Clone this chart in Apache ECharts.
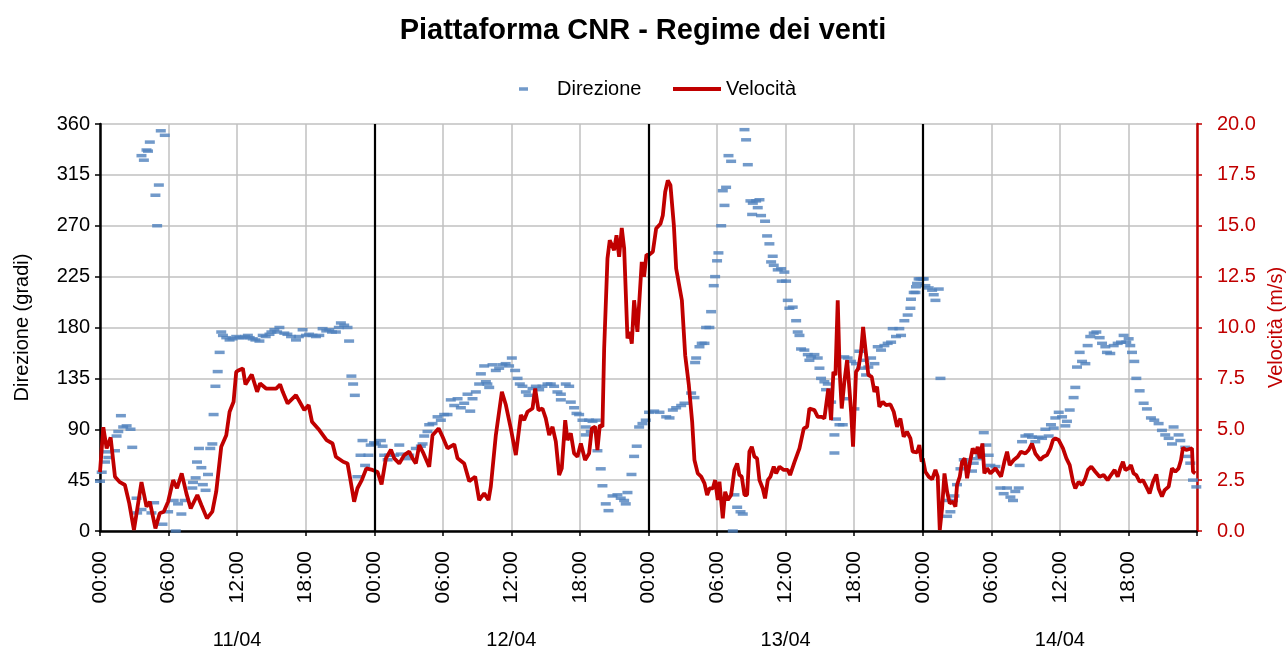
<!DOCTYPE html>
<html>
<head>
<meta charset="utf-8">
<script src="https://cdn.jsdelivr.net/npm/echarts@6/dist/echarts.min.js"></script>
<style>
html,body{margin:0;padding:0;background:#fff;}
#chart{width:1286px;height:655px;}
</style>
</head>
<body>
<div id="chart"></div>
<script>
// ---- Data (hours since 11/04 00:00) ----
var dayLabels = ['11/04', '12/04', '13/04', '14/04'];
var hourTicks = [0, 6, 12, 18, 24, 30, 36, 42, 48, 54, 60, 66, 72, 78, 84, 90];
var dayBoundaries = [24, 48, 72];

var velHours = [
0,0.29,0.58,0.93,1.31,1.74,2.18,2.56,2.97,3.63,4.07,4.36,4.85,5.23,5.58,5.96,6.4,6.74,7.15,7.56,7.94,8.52,8.87,9.36,9.83,10.17,10.61,11.05,11.34,11.69,11.92,12.15,12.5,12.73,13.28,13.75,14.01,14.53,15.41,15.76,15.99,16.42,17.15,17.88,18.26,18.55,19.19,19.83,20.35,20.64,21.28,21.66,21.89,22.24,22.53,22.91,23.31,23.84,
24.0,24.29,24.64,25.02,25.46,25.75,26.19,26.62,27.06,27.35,27.64,27.94,28.31,28.81,29.1,29.63,29.98,30.41,31.0,31.29,31.87,32.31,32.83,33.18,33.62,34.0,34.2,34.64,35.17,35.52,35.95,36.39,36.83,37.12,37.41,37.85,38.08,38.37,38.72,39.01,39.31,39.6,39.89,40.18,40.41,40.71,40.91,41.2,41.49,41.78,42.08,42.45,42.8,43.04,43.33,43.53,43.74,43.97,44.12,44.41,44.61,44.99,45.2,45.43,45.66,45.87,46.16,46.36,46.54,46.74,47.03,47.41,47.61,47.82,
48.0,48.38,48.67,49.05,49.25,49.46,49.69,49.92,50.22,50.42,50.92,51.21,51.53,51.82,52.02,52.31,52.61,52.9,53.13,53.34,53.63,53.83,54.06,54.21,54.5,54.71,54.94,55.23,55.52,55.76,55.96,56.16,56.4,56.63,56.83,57.04,57.27,57.5,57.71,58.0,58.2,58.44,58.67,58.96,59.17,59.46,59.84,60.19,60.39,60.78,61.21,61.59,61.88,62.08,62.52,62.81,63.16,63.39,63.74,63.98,64.18,64.36,64.56,64.73,64.91,65.14,65.38,65.58,65.73,65.9,66.16,66.37,66.6,66.78,66.98,67.24,67.53,67.77,68.0,68.2,68.5,68.79,69.17,69.46,69.75,70.04,70.33,70.62,70.92,71.12,71.5,71.7,71.91,
72.0,72.23,72.52,72.82,73.11,73.31,73.49,73.69,73.9,74.13,74.36,74.65,74.86,75.0,75.24,75.44,75.67,75.88,76.11,76.37,76.61,76.81,76.99,77.22,77.39,77.63,77.92,78.36,78.85,79.14,79.38,79.61,79.96,80.31,80.6,80.98,81.27,81.56,81.85,82.29,82.58,82.87,83.17,83.4,83.6,83.9,84.27,84.57,84.86,85.15,85.35,85.64,85.94,86.23,86.46,86.75,87.1,87.48,87.83,88.18,88.47,88.79,89.06,89.29,89.52,89.73,90.02,90.22,90.45,90.69,90.98,91.27,91.56,91.85,92.15,92.44,92.64,92.93,93.17,93.52,93.81,94.1,94.39,94.6,94.77,95.06,95.35,95.56,95.65,95.85
];
var velValues = [
2.9,5.1,4.06,4.6,2.67,2.4,2.26,1.36,0.05,2.4,1.2,1.44,0.13,0.87,0.95,1.44,2.5,2.1,2.83,1.85,1.11,1.77,1.28,0.62,0.95,1.93,4.14,4.71,5.86,6.35,7.82,7.9,7.99,7.2,7.69,6.84,7.25,7.0,7.0,7.2,6.84,6.27,6.68,5.94,6.19,5.37,4.96,4.47,4.3,3.65,3.4,3.32,2.59,1.44,2.1,2.5,3.08,3.0,
3.08,2.9,2.29,3.57,4.0,3.57,3.32,3.73,3.9,3.57,3.32,4.22,3.81,3.16,4.71,5.04,4.63,4.06,4.26,3.57,3.32,2.45,2.67,1.52,1.85,1.52,2.18,4.71,6.84,6.19,5.04,3.73,5.7,5.45,5.86,6.02,7.0,5.94,6.02,5.53,4.71,5.12,4.39,2.75,3.08,5.45,4.47,4.8,3.81,3.65,4.3,3.49,3.81,5.04,5.12,3.98,5.2,5.12,8.97,13.39,14.29,13.8,14.53,13.47,14.89,13.88,9.46,9.79,9.21,11.34,9.79,13.22,12.49,13.58,
13.55,13.72,14.86,15.1,15.5,16.66,17.23,16.99,15.02,12.9,11.34,8.64,7.17,5.37,3.49,2.83,2.67,2.34,1.77,2.09,2.09,2.5,1.52,2.42,0.62,1.93,1.52,1.77,3.0,3.32,2.75,2.67,1.77,1.77,3.9,4.14,3.65,3.57,2.5,2.09,1.6,2.5,2.67,3.16,2.83,3.16,3.0,3.0,2.75,3.4,4.06,5.04,5.12,6.02,5.94,5.61,5.61,5.53,7.0,5.45,7.82,7.66,11.34,7.82,6.02,7.33,8.4,7.0,5.86,4.14,7.82,7.99,8.8,10.03,8.97,7.66,7.58,6.84,7.09,6.1,6.35,6.19,6.22,5.86,5.12,5.53,4.63,4.88,4.55,3.9,3.86,4.22,3.4,
3.57,2.91,2.67,2.54,3.0,2.67,0.05,1.11,2.83,1.93,1.36,1.44,1.2,2.26,2.67,3.4,3.57,2.59,3.32,4.06,3.81,4.14,3.57,4.3,2.83,3.08,2.83,3.08,2.67,3.4,3.9,3.24,3.49,3.65,3.9,3.81,3.98,4.3,3.81,3.49,3.65,3.73,4.06,4.47,4.55,4.47,4.06,3.57,3.24,2.42,2.09,2.42,2.26,2.59,3.0,3.16,2.91,2.67,2.75,2.5,2.75,3.0,2.67,3.08,3.4,3.0,3.08,3.24,2.83,2.75,2.42,2.5,2.18,1.85,2.42,2.78,2.09,1.69,2.01,2.18,3.08,2.91,3.08,3.49,4.09,3.98,4.03,4.06,2.91,2.83
];

var dirHours = [
0,0.15,0.44,0.58,0.73,1.31,1.45,1.6,1.83,2.03,2.33,2.67,2.82,3.2,3.25,3.63,3.63,3.84,4.07,4.2,4.36,4.5,4.74,4.85,5.0,5.15,5.32,5.67,5.47,5.96,6.45,6.63,6.83,7.12,7.41,8.08,8.14,8.37,8.49,8.66,8.87,9.0,9.24,9.45,9.65,9.83,9.94,10.1,10.3,10.47,10.61,10.76,11.05,11.34,11.6,11.92,12.2,12.5,12.7,12.94,13.1,13.37,13.6,13.95,14.24,14.5,14.83,15.0,15.26,15.5,15.7,16.13,16.4,16.72,17.15,17.4,17.73,18.02,18.3,18.6,18.9,19.19,19.48,19.8,20.06,20.3,20.64,20.9,21.08,21.37,21.66,21.8,22.0,22.15,22.3,22.53,22.8,22.97,23.2,23.49,23.69,23.98,
24.15,24.58,24.73,24.87,25.17,25.31,25.75,26.19,26.33,26.77,27.06,27.64,28.08,28.23,28.37,28.66,28.81,29.1,29.54,29.83,30.12,30.41,30.7,31.0,31.29,31.58,31.87,32.16,32.4,32.6,32.89,33.18,33.33,33.62,33.77,33.9,34.06,34.35,34.64,34.93,35.22,35.5,35.8,36.04,36.33,36.54,36.74,36.97,37.27,37.5,37.85,38.14,38.43,38.72,39.16,39.45,39.74,40.03,40.33,40.33,40.76,41.06,41.2,41.49,41.7,41.93,42.22,42.51,42.51,42.8,42.95,43.1,43.39,43.53,43.82,43.97,44.26,44.5,44.85,45.28,45.57,45.87,46.01,46.16,46.51,46.74,46.97,47.18,47.47,47.76,
48.05,48.5,48.96,49.55,49.84,50.13,50.42,50.86,51.15,51.73,52.02,52.08,52.17,52.46,52.66,52.9,53.04,53.33,53.48,53.71,53.83,54.0,54.12,54.36,54.5,54.65,54.79,55.0,55.23,55.38,55.52,55.76,56.05,56.25,56.4,56.54,56.69,56.92,57.07,57.13,57.42,57.56,57.71,57.85,58.2,58.38,58.58,58.73,58.87,58.96,59.31,59.6,59.66,59.89,60.04,60.19,60.33,60.62,60.92,61.06,61.21,61.35,61.64,61.94,62.08,62.23,62.52,62.81,62.96,63.1,63.39,63.54,63.69,63.98,64.27,64.27,64.41,64.71,65.0,65.14,65.29,65.43,65.73,66.02,66.16,66.45,66.6,66.89,67.04,67.24,67.48,67.77,68.06,68.35,68.64,68.93,69.23,69.37,69.66,69.95,70.1,70.39,70.68,70.92,70.97,71.21,71.36,71.41,71.5,71.64,71.8,71.99,
72.09,72.23,72.52,72.82,72.96,73.11,73.4,73.55,74.13,74.13,74.42,74.65,74.77,75.0,75.3,75.59,75.88,76.31,76.46,76.75,77.04,77.34,77.57,77.77,77.92,78.36,78.79,79.08,79.38,79.67,79.9,80.1,80.4,80.48,80.69,80.98,81.27,81.56,81.85,82.15,82.44,82.73,83.02,83.22,83.46,83.6,83.9,84.19,84.48,84.62,84.86,85.2,85.35,85.5,85.73,85.94,86.23,86.43,86.66,86.96,87.19,87.48,87.69,87.98,88.12,88.41,88.71,89.06,89.35,89.58,89.81,90.02,90.16,90.31,90.51,90.69,90.98,91.33,91.62,91.97,92.26,92.64,92.93,93.22,93.52,93.81,93.95,94.39,94.54,94.97,95.12,95.41,95.65,95.94
];
var dirValues = [
44,52,61,70,65,71,84,88,102,92,93,90,74,29,16,19,332,328,337,336,344,16,25,297,270,306,354,350,6,17,27,0,24,15,27,38,43,47,61,73,56,41,36,50,73,77,103,128,141,158,176,173,171,169,170,172,171,171,172,173,171,170,169,168,173,172,174,176,178,176,180,175,174,172,169,172,178,173,174,173,172,173,179,177,178,176,176,180,184,182,180,168,137,130,120,48,67,80,58,67,76,78,
77,80,75,67,63,67,67,76,68,64,67,73,75,77,84,88,94,95,101,98,103,103,116,111,117,109,113,121,106,117,123,130,139,146,132,130,127,147,142,144,147,148,146,153,142,135,130,128,123,120,126,128,125,128,130,130,128,123,121,116,130,128,114,109,104,103,98,92,85,98,88,97,98,71,55,40,24,18,31,32,29,27,24,34,50,66,75,92,95,98,
105,106,105,101,100,107,109,111,113,122,118,149,153,163,166,166,180,180,194,217,225,239,246,270,301,288,304,332,327,0,32,21,17,15,355,346,324,292,280,290,292,286,293,279,274,261,254,238,243,235,231,232,221,229,221,204,197,198,186,176,173,161,160,156,151,154,156,153,144,135,132,125,130,114,85,69,99,94,94,154,117,153,150,108,148,159,144,151,138,145,153,148,163,160,164,166,167,179,172,179,173,186,191,197,205,211,211,216,219,223,223,223,
223,217,215,213,209,204,214,135,27,13,17,27,31,41,55,63,60,53,60,64,67,87,76,67,58,57,38,33,38,30,27,35,38,58,79,84,85,83,79,83,82,90,84,94,91,100,105,101,93,97,107,118,127,145,158,150,148,164,172,175,176,171,166,163,158,157,164,166,167,173,167,170,164,158,150,135,124,113,108,100,98,95,89,85,82,77,92,85,80,74,66,60,45,39
];

// ---- Chart ----
var FONT = 'Liberation Sans, Arial, sans-serif';
var velData = velHours.map(function (h, i) { return [h, velValues[i]]; });
var dirData = dirHours.map(function (h, i) { return [h, dirValues[i]]; });

function pad(n) { return (n < 10 ? '0' : '') + n; }

var chart = echarts.init(document.getElementById('chart'), null, { renderer: 'canvas' });
chart.setOption({
  animation: false,
  backgroundColor: '#ffffff',
  title: {
    text: 'Piattaforma CNR - Regime dei venti',
    left: 'center',
    top: 11,
    textStyle: { fontFamily: FONT, fontSize: 29, fontWeight: 'bold', color: '#000' }
  },
  legend: [
    {
      data: ['Direzione'],
      left: 514, top: 74,
      icon: 'rect', itemWidth: 9, itemHeight: 3.5,
      textStyle: { fontFamily: FONT, fontSize: 20, color: '#000', padding: [0, 0, 0, 24] }
    },
    {
      data: [{ name: 'Velocità', icon: 'path://M0,0 L48,0 L48,4 L0,4 Z' }],
      left: 668, top: 74,
      itemWidth: 48, itemHeight: 4,
      textStyle: { fontFamily: FONT, fontSize: 20, color: '#000' }
    }
  ],
  grid: { left: 100, right: 89, top: 124, bottom: 124, containLabel: false, outerBoundsMode: 'none' },
  xAxis: [
    {
      type: 'value', min: 0, max: 96, interval: 6,
      axisLine: { show: true, onZero: false, lineStyle: { color: '#000', width: 2.5 } },
      axisTick: { show: true, inside: false, length: 5, lineStyle: { color: '#000', width: 1.5 } },
      axisLabel: {
        rotate: 90, margin: 20, fontFamily: FONT, fontSize: 21, color: '#000',
        formatter: function (v) {
          if (hourTicks.indexOf(v) < 0) return '';
          return pad(v % 24) + ':00';
        }
      },
      splitLine: { show: true, lineStyle: { color: '#c0c0c0', width: 1.5 } }
    },
    {
      type: 'category', data: dayLabels, position: 'bottom', offset: 91,
      axisLine: { show: false }, axisTick: { show: false }, splitLine: { show: false },
      axisLabel: { fontFamily: FONT, fontSize: 20, color: '#000', margin: 8 }
    }
  ],
  yAxis: [
    {
      type: 'value', min: 0, max: 360, interval: 45, position: 'left',
      name: 'Direzione (gradi)', nameLocation: 'middle', nameGap: 68, nameRotate: 90,
      nameTextStyle: { fontFamily: FONT, fontSize: 20, color: '#000' },
      axisLine: { show: true, lineStyle: { color: '#000', width: 2.5 } },
      axisTick: { show: true, inside: false, length: 5, lineStyle: { color: '#000', width: 1.5 } },
      axisLabel: { fontFamily: FONT, fontSize: 20, color: '#000', margin: 10 },
      splitLine: { show: true, lineStyle: { color: '#c0c0c0', width: 1.5 } }
    },
    {
      type: 'value', min: 0, max: 20, interval: 2.5, position: 'right',
      name: 'Velocità (m/s)', nameLocation: 'middle', nameGap: 66, nameRotate: 90,
      nameTextStyle: { fontFamily: FONT, fontSize: 20, color: '#c00000' },
      axisLine: { show: true, lineStyle: { color: '#c00000', width: 2.5 } },
      axisTick: { show: true, inside: false, length: 5, lineStyle: { color: '#c00000', width: 1.5 } },
      axisLabel: { fontFamily: FONT, fontSize: 20, color: '#c00000', margin: 20,
        formatter: function (v) { return v.toFixed(1); } },
      splitLine: { show: false }
    }
  ],
  series: [
    {
      name: 'Direzione', type: 'scatter', xAxisIndex: 0, yAxisIndex: 0,
      symbol: 'rect', symbolSize: [10, 3.5],
      itemStyle: { color: '#4f81bd' },
      data: dirData,
      markLine: {
        silent: true, symbol: 'none', label: { show: false },
        lineStyle: { color: '#000', width: 2.2, type: 'solid' },
        data: dayBoundaries.map(function (d) { return { xAxis: d }; })
      }
    },
    {
      name: 'Velocità', type: 'line', xAxisIndex: 0, yAxisIndex: 1,
      showSymbol: false, symbol: 'none',
      lineStyle: { color: '#c00000', width: 3.8 },
      itemStyle: { color: '#c00000' },
      data: velData
    }
  ]
});
</script>
</body>
</html>
